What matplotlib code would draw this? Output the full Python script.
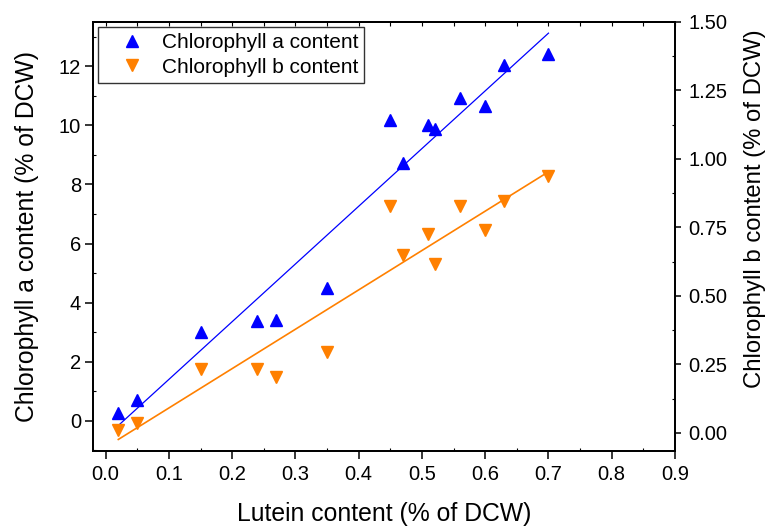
import numpy as np
import matplotlib
matplotlib.use("Agg")
import matplotlib.pyplot as plt
from matplotlib.ticker import MultipleLocator

plt.rcParams["font.family"] = ["Liberation Sans", "DejaVu Sans"]

# Contenidos (% de DCW)
lutein = [0.02, 0.05, 0.15, 0.24, 0.27, 0.35, 0.45, 0.47, 0.51, 0.52, 0.56, 0.60, 0.63, 0.70]
chl_a = [0.28, 0.69, 3.02, 3.38, 3.42, 4.48, 10.18, 8.74, 10.03, 9.88, 10.94, 10.65, 12.03, 12.40]
chl_b = [0.01, 0.035, 0.235, 0.235, 0.205, 0.296, 0.83, 0.648, 0.727, 0.618, 0.83, 0.739, 0.848, 0.939]

BLUE = "#0000FF"
ORANGE = "#FF8000"

fig = plt.figure(figsize=(7.66, 5.27), dpi=100)
ax = fig.add_axes([0.1214, 0.1442, 0.7598, 0.8141])
ax2 = ax.twinx()

x = np.array(lutein)
xf = np.array([x.min(), x.max()])
pa = np.polyfit(x, chl_a, 1)
pb = np.polyfit(x, chl_b, 1)

ha, = ax.plot(lutein, chl_a, "^", color=BLUE, ms=8, mec=BLUE, ls="none",
              label="Chlorophyll a content")
ax.plot(xf, np.polyval(pa, xf), color=BLUE, lw=0.9)
hb, = ax2.plot(lutein, chl_b, "v", color=ORANGE, ms=8, mec=ORANGE, ls="none",
               label="Chlorophyll b content")
ax2.plot(xf, np.polyval(pb, xf), color=ORANGE, lw=1.2)

ax.set_xlim(-0.02, 0.9)
ax.set_ylim(-1.02, 13.5)
ax2.set_ylim(-0.066, 1.5)

ax.xaxis.set_major_locator(MultipleLocator(0.1))
ax.xaxis.set_minor_locator(MultipleLocator(0.05))
ax.yaxis.set_major_locator(MultipleLocator(2))
ax.yaxis.set_minor_locator(MultipleLocator(1))
ax2.yaxis.set_major_locator(MultipleLocator(0.25))
ax2.yaxis.set_minor_locator(MultipleLocator(0.125))
ax.xaxis.set_major_formatter(lambda v, p: f"{v:.1f}")
ax2.yaxis.set_major_formatter(lambda v, p: f"{v:.2f}")

ax.tick_params(which="major", direction="out", length=6, width=1.1,
               labelsize=14.5, top=False, right=False)
ax.tick_params(axis="x", which="major", pad=4)
ax.tick_params(axis="y", which="major", pad=2.5)
ax.tick_params(which="minor", direction="in", length=2.5, width=0.8,
               top=False, right=False)
ax2.tick_params(which="major", direction="out", length=4.5, width=1.1,
                labelsize=14.5, pad=5)
ax2.tick_params(which="minor", direction="in", length=2.5, width=0.8)

# marcas interiores del borde superior
top = ax.secondary_xaxis("top")
top.set_xticks(np.arange(0, 0.91, 0.05))
top.tick_params(direction="in", length=3, width=0.8, labeltop=False)
top.set_xticklabels([])

for a in (ax, ax2):
    for s in a.spines.values():
        s.set_linewidth(1.3)
top.spines["top"].set_linewidth(1.3)

ax.set_xlabel("Lutein content (% of DCW)", fontsize=17.8, labelpad=13)
ax.set_ylabel("Chlorophyll a content (% of DCW)", fontsize=17.8, labelpad=14)
ax2.set_ylabel("Chlorophyll b content (% of DCW)", fontsize=17.2)
ax2.yaxis.set_label_coords(1.118, 0.564)

leg = ax.legend(handles=[ha, hb], loc="upper left", fontsize=15,
                frameon=True, fancybox=False, borderaxespad=0.25,
                handletextpad=0.15, borderpad=0.3, labelspacing=0.25,
                handlelength=2.6)
leg.get_frame().set_edgecolor("black")
leg.get_frame().set_linewidth(1.0)

fig.savefig("out.png", dpi=100)
